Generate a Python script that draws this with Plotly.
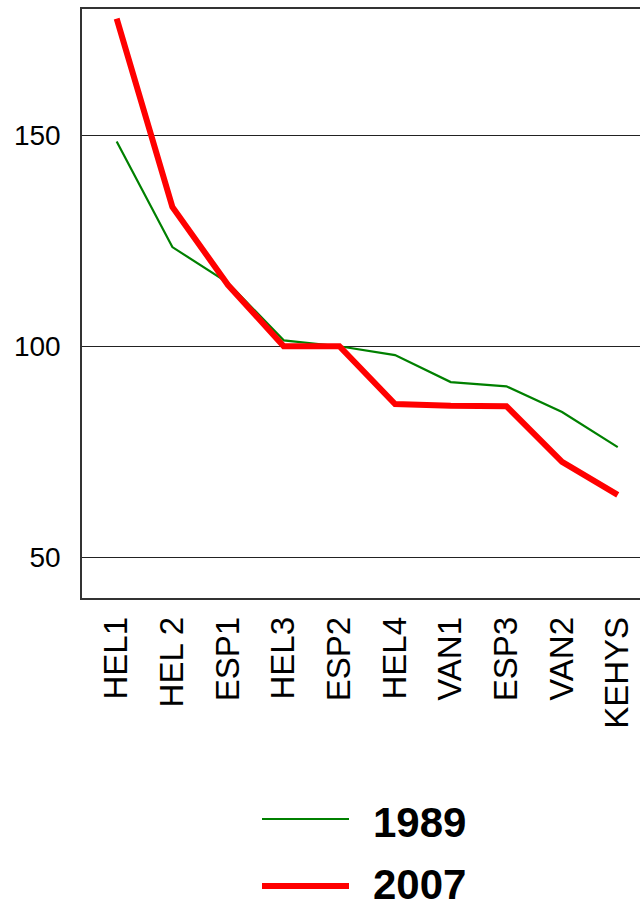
import plotly.graph_objects as go

categories = ["HEL1", "HEL 2", "ESP1", "HEL3", "ESP2", "HEL4", "VAN1", "ESP3", "VAN2", "KEHYS"]
values_1989 = [148.5, 123.5, 115.0, 101.4, 100.0, 97.9, 91.5, 90.5, 84.4, 76.1]
values_2007 = [177.6, 133.0, 114.5, 100.0, 100.0, 86.3, 85.9, 85.8, 72.6, 64.8]
y_ticks = [50, 100, 150]
series_names = ["1989", "2007"]

FONT = "Liberation Sans, Arial, sans-serif"
GREEN = "#008000"
RED = "#FF0000"

fig = go.Figure()
fig.add_trace(go.Scatter(x=list(range(len(categories))), y=values_1989, mode="lines",
                         name=series_names[0], line=dict(color=GREEN, width=2.2)))
fig.add_trace(go.Scatter(x=list(range(len(categories))), y=values_2007, mode="lines",
                         name=series_names[1], line=dict(color=RED, width=6)))

fig.update_layout(
    width=640, height=910,
    margin=dict(l=82, r=0, t=9, b=312),
    paper_bgcolor="white", plot_bgcolor="white",
    showlegend=False,
    font=dict(family=FONT, color="black"),
)
fig.update_xaxes(
    range=[-0.623, 9.40],
    tickmode="array", tickvals=list(range(len(categories))), ticktext=categories,
    tickangle=-90, tickfont=dict(size=33, family=FONT, color="black"),
    showgrid=False, zeroline=False, ticks="", ticklabelstandoff=4,
    showline=True, linecolor="#333333", linewidth=1.5, mirror=True,
)
fig.update_yaxes(
    range=[40.35, 179.9],
    tickmode="array", tickvals=y_ticks, ticktext=[str(v) for v in y_ticks],
    tickfont=dict(size=28, family=FONT, color="black"),
    showgrid=True, gridcolor="#222222", gridwidth=1.2, zeroline=False, ticks="",
    ticklabelstandoff=14,
    showline=True, linecolor="#333333", linewidth=1.5,
)

# custom legend (long line samples as in the reference), placed below the plot area
plot_h = 910 - 9 - 312
plot_w = 640 - 82
def px_x(x):
    return (x - 82) / plot_w
def px_y(y):
    return (598 - y) / plot_h

legend_rows = [(series_names[0], GREEN, 2.2, 819, 822), (series_names[1], RED, 6, 886, 884)]
for name, color, w, ly, ty in legend_rows:
    fig.add_shape(type="line", xref="paper", yref="paper",
                  x0=px_x(262), x1=px_x(349), y0=px_y(ly), y1=px_y(ly),
                  line=dict(color=color, width=w))
    fig.add_annotation(xref="paper", yref="paper", x=px_x(371), y=px_y(ty),
                       text="<b>%s</b>" % name, showarrow=False, xanchor="left", yanchor="middle",
                       font=dict(size=42, family=FONT, color="black"))

fig.write_html("out.html", config={"displayModeBar": False},
               post_script="document.body.style.margin='0';document.body.style.overflow='hidden';")
